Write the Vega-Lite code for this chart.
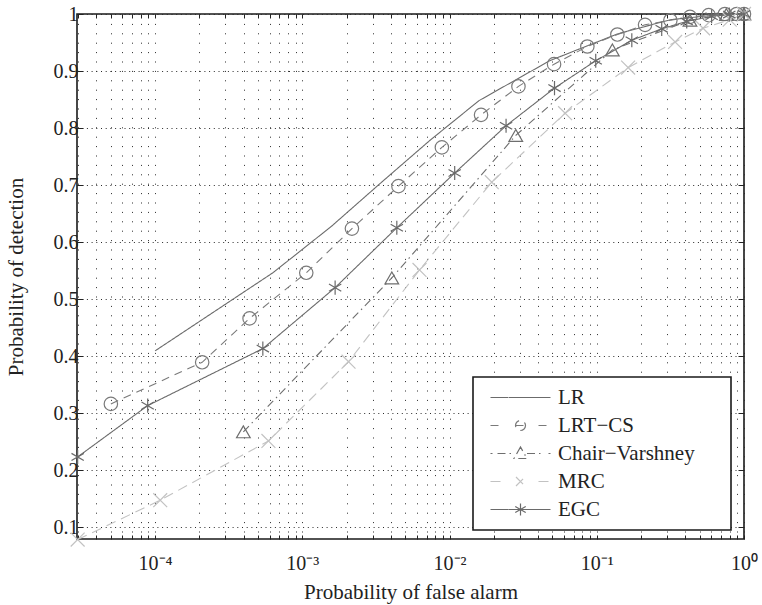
{
  "$schema": "https://vega.github.io/schema/vega-lite/v6.json",
  "width": 667,
  "height": 525,
  "autosize": {"type": "none"},
  "padding": {"left": 77, "top": 14, "right": 18, "bottom": 66},
  "background": "white",
  "config": {
    "view": {"stroke": "#1a1a1a", "strokeWidth": 1.6},
    "font": "Liberation Serif"
  },
  "data": {
    "values": [
      {"s": "LR", "x": 0.0001, "y": 0.409},
      {"s": "LR", "x": 0.000631, "y": 0.546},
      {"s": "LR", "x": 0.001585, "y": 0.628},
      {"s": "LR", "x": 0.003388, "y": 0.703},
      {"s": "LR", "x": 0.007413, "y": 0.779},
      {"s": "LR", "x": 0.01585, "y": 0.848},
      {"s": "LR", "x": 0.04786, "y": 0.918},
      {"s": "LR", "x": 0.138, "y": 0.965},
      {"s": "LR", "x": 0.3162, "y": 0.99},
      {"s": "LR", "x": 0.631, "y": 0.998},
      {"s": "LR", "x": 1, "y": 1},

      {"s": "LRT−CS", "x": 0.0000501, "y": 0.316},
      {"s": "LRT−CS", "x": 0.0002089, "y": 0.389},
      {"s": "LRT−CS", "x": 0.0004385, "y": 0.466},
      {"s": "LRT−CS", "x": 0.001064, "y": 0.546},
      {"s": "LRT−CS", "x": 0.002173, "y": 0.6235},
      {"s": "LRT−CS", "x": 0.004498, "y": 0.698},
      {"s": "LRT−CS", "x": 0.008872, "y": 0.766},
      {"s": "LRT−CS", "x": 0.01637, "y": 0.823},
      {"s": "LRT−CS", "x": 0.02938, "y": 0.873},
      {"s": "LRT−CS", "x": 0.05129, "y": 0.912},
      {"s": "LRT−CS", "x": 0.0863, "y": 0.943},
      {"s": "LRT−CS", "x": 0.138, "y": 0.964},
      {"s": "LRT−CS", "x": 0.2128, "y": 0.981},
      {"s": "LRT−CS", "x": 0.3162, "y": 0.989},
      {"s": "LRT−CS", "x": 0.4295, "y": 0.995},
      {"s": "LRT−CS", "x": 0.5754, "y": 0.998},
      {"s": "LRT−CS", "x": 0.7413, "y": 1.0},
      {"s": "LRT−CS", "x": 0.891, "y": 1.0},
      {"s": "LRT−CS", "x": 1, "y": 1.0},

      {"s": "Chair−Varshney", "x": 0.000398, "y": 0.267},
      {"s": "Chair−Varshney", "x": 0.004055, "y": 0.537},
      {"s": "Chair−Varshney", "x": 0.02818, "y": 0.787},
      {"s": "Chair−Varshney", "x": 0.1276, "y": 0.937},
      {"s": "Chair−Varshney", "x": 0.4295, "y": 0.989},
      {"s": "Chair−Varshney", "x": 0.7586, "y": 0.999},
      {"s": "Chair−Varshney", "x": 1, "y": 1.0},

      {"s": "MRC", "x": 0.0000298, "y": 0.078},
      {"s": "MRC", "x": 0.0001084, "y": 0.147},
      {"s": "MRC", "x": 0.0005888, "y": 0.251},
      {"s": "MRC", "x": 0.002061, "y": 0.39},
      {"s": "MRC", "x": 0.006252, "y": 0.551},
      {"s": "MRC", "x": 0.01936, "y": 0.705},
      {"s": "MRC", "x": 0.06095, "y": 0.826},
      {"s": "MRC", "x": 0.1633, "y": 0.906},
      {"s": "MRC", "x": 0.3404, "y": 0.951},
      {"s": "MRC", "x": 0.5272, "y": 0.975},
      {"s": "MRC", "x": 0.8, "y": 0.99},
      {"s": "MRC", "x": 1, "y": 1.0},

      {"s": "EGC", "x": 0.0000298, "y": 0.223},
      {"s": "EGC", "x": 0.0000891, "y": 0.313},
      {"s": "EGC", "x": 0.0005395, "y": 0.413},
      {"s": "EGC", "x": 0.001671, "y": 0.52},
      {"s": "EGC", "x": 0.004385, "y": 0.625},
      {"s": "EGC", "x": 0.01084, "y": 0.721},
      {"s": "EGC", "x": 0.02421, "y": 0.804},
      {"s": "EGC", "x": 0.05164, "y": 0.87},
      {"s": "EGC", "x": 0.0984, "y": 0.918},
      {"s": "EGC", "x": 0.173, "y": 0.954},
      {"s": "EGC", "x": 0.2761, "y": 0.974},
      {"s": "EGC", "x": 0.4083, "y": 0.987},
      {"s": "EGC", "x": 0.6026, "y": 0.996},
      {"s": "EGC", "x": 0.7943, "y": 0.999},
      {"s": "EGC", "x": 1, "y": 1.0}
    ]
  },
  "layer": [
    {
      "mark": {"type": "line", "strokeWidth": 1.1, "clip": false},
      "encoding": {
        "x": {
          "field": "x", "type": "quantitative",
          "scale": {"type": "log", "domain": [0.0000295, 1], "nice": false},
          "axis": {
            "orient": "bottom",
            "values": [0.00003, 0.00004, 0.00005, 0.00006, 0.00007, 0.00008, 0.00009, 0.0001, 0.0002, 0.0003, 0.0004, 0.0005, 0.0006, 0.0007, 0.0008, 0.0009, 0.001, 0.002, 0.003, 0.004, 0.005, 0.006, 0.007, 0.008, 0.009, 0.01, 0.02, 0.03, 0.04, 0.05, 0.06, 0.07, 0.08, 0.09, 0.1, 0.2, 0.3, 0.4, 0.5, 0.6, 0.7, 0.8, 0.9, 1],
            "labelExpr": "datum.value == 0.0001 ? '10⁻⁴' : datum.value == 0.001 ? '10⁻³' : datum.value == 0.01 ? '10⁻²' : datum.value == 0.1 ? '10⁻¹' : datum.value == 1 ? '10⁰' : ''",
            "title": "Probability of false alarm",
            "grid": true, "gridDash": [1, 8.4], "gridColor": "#2a2a2a", "gridWidth": 1,
            "domain": false,
            "tickSize": -4, "tickColor": "#222", "tickWidth": 1,
            "labelFont": "Liberation Serif", "labelFontSize": 20, "labelColor": "#222", "labelPadding": 18,
            "labelOverlap": false, "labelFlush": false,
            "titleFont": "Liberation Serif", "titleFontSize": 21, "titleFontWeight": "normal", "titleColor": "#222", "titlePadding": 8
          }
        },
        "y": {
          "field": "y", "type": "quantitative",
          "scale": {"domain": [0.079, 1], "nice": false, "zero": false},
          "axis": {
            "orient": "left",
            "values": [0.1, 0.2, 0.3, 0.4, 0.5, 0.6, 0.7, 0.8, 0.9, 1],
            "format": ".1~f",
            "title": "Probability of detection",
            "grid": true, "gridDash": [1, 3.7], "gridColor": "#2a2a2a", "gridWidth": 1,
            "domain": false,
            "tickSize": -6, "tickColor": "#222", "tickWidth": 1,
            "labelFont": "Liberation Serif", "labelFontSize": 20, "labelColor": "#222", "labelPadding": 5,
            "titleFont": "Liberation Serif", "titleFontSize": 21, "titleFontWeight": "normal", "titleColor": "#222", "titlePadding": 27
          }
        },
        "color": {
          "field": "s", "type": "nominal",
          "scale": {
            "domain": ["LR", "LRT−CS", "Chair−Varshney", "MRC", "EGC"],
            "range": ["#6b6b6b", "#7a7a7a", "#6e6e6e", "#c2c2c2", "#6a6a6a"]
          },
          "legend": {
            "orient": "none", "legendX": 396, "legendY": 363,
            "title": null,
            "strokeColor": "#1a1a1a", "fillColor": "white",
            "padding": 10,
            "labelFont": "Liberation Serif", "labelFontSize": 21, "labelColor": "#222",
            "symbolSize": 100, "symbolOffset": 27, "labelOffset": 27,
            "symbolStrokeWidth": 1.2, "symbolType": "stroke",
            "rowPadding": 6, "labelLimit": 400,
            "encode": {
              "legend": {"update": {"strokeWidth": {"value": 1.6}}},
              "labels": {"update": {"text": {"signal": "datum.label + '\u00a0\u00a0\u00a0\u00a0\u00a0\u200b'"}}},
              "symbols": {"update": {
                "shape": {"signal": "datum.value == 'LR' ? 'M-6,0L6,0' : datum.value == 'LRT−CS' ? 'M-6,0L-3.6,0M3.6,0L6,0M1,0L0.924,0.383L0.707,0.707L0.383,0.924L0,1L-0.383,0.924L-0.707,0.707L-0.924,0.383L-1,0L-0.924,-0.383L-0.707,-0.707L-0.383,-0.924L0,-1L0.383,-0.924L0.707,-0.707L0.924,-0.383ZM-1,0L1,0' : datum.value == 'Chair−Varshney' ? 'M-6,0L-5.6,0M-4.6,0L-1.3,0M1.3,0L4.6,0M5.6,0L6,0M0,-1.3L-1.3,1L1.3,1Z' : datum.value == 'MRC' ? 'M-6,0L-3.6,0M3.6,0L6,0M-0.9,-0.9L0.9,0.9M-0.9,0.9L0.9,-0.9' : 'M-6,0L6,0M0,-1.2L0,1.2M-1.05,-0.6L1.05,0.6M-1.05,0.6L1.05,-0.6'"},
                "strokeDash": {"value": [1, 0]},
                "fill": {"value": "transparent"}
              }}
            }
          }
        },
        "strokeDash": {
          "field": "s", "type": "nominal",
          "scale": {
            "domain": ["LR", "LRT−CS", "Chair−Varshney", "MRC", "EGC"],
            "range": [[1, 0], [8, 6], [8, 4, 1.5, 4], [10, 6], [1, 0]]
          },
          "legend": null
        }
      }
    },
    {
      "transform": [{"filter": "datum.s != 'LR'"}],
      "mark": {"type": "point", "filled": false, "strokeWidth": 1.2, "opacity": 1, "clip": false},
      "encoding": {
        "x": {
          "field": "x", "type": "quantitative",
          "axis": {
            "orient": "top",
            "values": [0.00003, 0.00004, 0.00005, 0.00006, 0.00007, 0.00008, 0.00009, 0.0001, 0.0002, 0.0003, 0.0004, 0.0005, 0.0006, 0.0007, 0.0008, 0.0009, 0.001, 0.002, 0.003, 0.004, 0.005, 0.006, 0.007, 0.008, 0.009, 0.01, 0.02, 0.03, 0.04, 0.05, 0.06, 0.07, 0.08, 0.09, 0.1, 0.2, 0.3, 0.4, 0.5, 0.6, 0.7, 0.8, 0.9, 1],
            "labels": false, "title": null, "grid": false, "domain": false,
            "tickSize": -4, "tickColor": "#222", "tickWidth": 1
          }
        },
        "y": {
          "field": "y", "type": "quantitative",
          "axis": {
            "orient": "right",
            "values": [0.1, 0.2, 0.3, 0.4, 0.5, 0.6, 0.7, 0.8, 0.9, 1],
            "labels": false, "title": null, "grid": false, "domain": false,
            "tickSize": -6, "tickColor": "#222", "tickWidth": 1
          }
        },
        "color": {"field": "s", "type": "nominal"},
        "shape": {
          "field": "s", "type": "nominal",
          "scale": {
            "domain": ["LRT−CS", "Chair−Varshney", "MRC", "EGC"],
            "range": ["circle", "triangle-up", "M-1,-1L1,1M-1,1L1,-1", "M0,-1L0,1M-0.87,-0.5L0.87,0.5M-0.87,0.5L0.87,-0.5"]
          },
          "legend": null
        },
        "size": {
          "field": "s", "type": "nominal",
          "scale": {
            "domain": ["LRT−CS", "Chair−Varshney", "MRC", "EGC"],
            "range": [180, 200, 110, 180]
          },
          "legend": null
        }
      }
    }
  ],
  "resolve": {"axis": {"x": "independent", "y": "independent"}}
}
